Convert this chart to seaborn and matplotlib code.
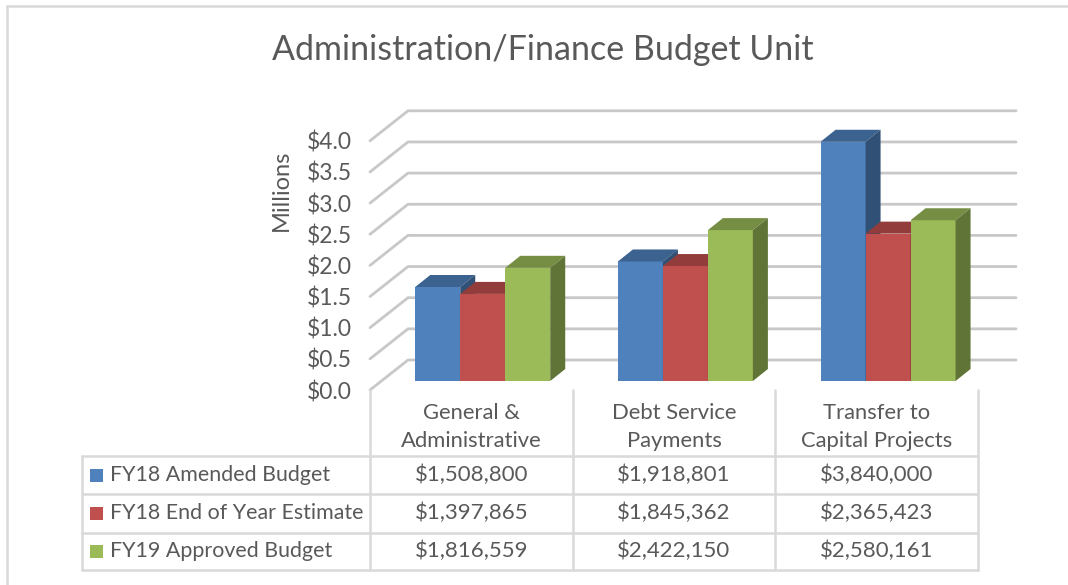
import numpy as np
import pandas as pd
import matplotlib
matplotlib.use("Agg")
import matplotlib.pyplot as plt
import seaborn as sns
from matplotlib.transforms import blended_transform_factory, IdentityTransform, ScaledTranslation
from matplotlib.patches import Polygon, Rectangle
from matplotlib.lines import Line2D
import matplotlib.colors as mcolors

# ---------------- data ----------------
categories = ["General &\nAdministrative", "Debt Service\nPayments", "Transfer to\nCapital Projects"]
series = ["FY18 Amended Budget", "FY18 End of Year Estimate", "FY19 Approved Budget"]
amended = [1508800, 1918801, 3840000]
estimate = [1397865, 1845362, 2365423]
approved = [1816559, 2422150, 2580161]
y_ticks = [0.0, 0.5, 1.0, 1.5, 2.0, 2.5, 3.0, 3.5, 4.0]
y_tick_labels = ["$0.0", "$0.5", "$1.0", "$1.5", "$2.0", "$2.5", "$3.0", "$3.5", "$4.0"]
title = "Administration/Finance Budget Unit"
y_label = "Millions"
colors = ["#4F81BD", "#C0504D", "#9BBB59"]

values = [amended, estimate, approved]
rows = []
for s, vals in zip(series, values):
    for c, v in zip(categories, vals):
        rows.append({"cat": c, "series": s, "val": v / 1e6})
df = pd.DataFrame(rows)

# ---------------- layout ----------------
W, H = 1068, 585
sns.set_theme(style="white")
plt.rcParams["font.family"] = ["Lato", "DejaVu Sans"]
TXT = "#595959"
GRID = "#C8C8C8"
LINE = "#D9D9D9"

fig = plt.figure(figsize=(W / 100, H / 100), dpi=100)
fig.patch.set_facecolor("white")

px_per_m = 62.3
ymax = 4.5
ax = fig.add_axes([370 / W, 1 - 390 / H, 608 / W, ymax * px_per_m / H])

sns.barplot(data=df, x="cat", y="val", hue="series", order=categories,
            hue_order=series, palette=colors, width=0.666, saturation=1,
            linewidth=0, edgecolor="none", legend=False, ax=ax)
ax.set_xlim(-0.5, 2.5)
ax.set_ylim(0, ymax)
for sp in ax.spines.values():
    sp.set_visible(False)
ax.patch.set_alpha(0)
ax.set_xticks([])
ax.set_xlabel("")
ax.set_ylabel("")
ax.set_yticks(y_ticks)
ax.set_yticklabels(y_tick_labels)
ax.tick_params(axis="y", length=0, pad=13, labelsize=16.5, labelcolor=TXT)

# plane offsets (pixels)
bar_off = np.array([11.4, 9.0])
back_off = np.array([38.0, 30.0])
depth = np.array([15.0, 12.0])

def darker(c, f):
    r, g, b = mcolors.to_rgb(c)
    return (r * f, g * f, b * f)

# bars: shift to bar plane and add 3D faces
n_cat = len(categories)
for i, p in enumerate(ax.patches):
    s_idx = i // n_cat
    base_z = 3 + s_idx
    p.set_transform(ax.transData + ScaledTranslation(bar_off[0] / 100, bar_off[1] / 100, fig.dpi_scale_trans))
    p.set_zorder(base_z)
    x0, w, h = p.get_x(), p.get_width(), p.get_height()
    (xl, yb), (xr, yt) = ax.transData.transform([(x0, 0), (x0 + w, h)])
    xl += bar_off[0]; xr += bar_off[0]; yb += bar_off[1]; yt += bar_off[1]
    fc = colors[s_idx]
    top = Polygon([(xl, yt), (xr, yt), (xr + depth[0], yt + depth[1]), (xl + depth[0], yt + depth[1])],
                  closed=True, facecolor=darker(fc, 0.76), edgecolor="none",
                  transform=IdentityTransform(), zorder=base_z + 0.1, clip_on=False)
    side = Polygon([(xr, yb), (xr, yt), (xr + depth[0], yt + depth[1]), (xr + depth[0], yb + depth[1])],
                   closed=True, facecolor=darker(fc, 0.62), edgecolor="none",
                   transform=IdentityTransform(), zorder=base_z + 0.1, clip_on=False)
    ax.add_patch(top)
    ax.add_patch(side)

# gridlines: front diagonal + back wall
for v in y_ticks:
    fl = ax.transData.transform((-0.5, v))
    fr = ax.transData.transform((2.5, v))
    bl = fl + back_off
    br = fr + back_off
    ax.add_line(Line2D([fl[0], bl[0], br[0]], [fl[1], bl[1], br[1]], color=GRID, lw=2.0,
                       transform=IdentityTransform(), zorder=1, clip_on=False,
                       solid_joinstyle="miter"))

# y label
fig.text(281 / W, 1 - 190 / H, y_label, rotation=90, ha="center", va="center",
         fontsize=17, color=TXT)

# title
fig.text(543 / W, 1 - 50 / H, title, ha="center", va="center", fontsize=24.5,
         color=TXT, fontweight="normal")

# ---------------- data table ----------------
bt = blended_transform_factory(ax.transData, fig.transFigure)
def fy(ypx):
    return 1 - ypx / H

row_lines = [456, 494, 533, 570]
row_centers = [475, 513, 551]
x_left_px = 82

# horizontal lines
for yl in row_lines:
    fig.add_artist(Line2D([x_left_px / W, 978 / W], [fy(yl), fy(yl)], color=LINE, lw=1.8,
                          transform=fig.transFigure))
# vertical lines
fig.add_artist(Line2D([x_left_px / W, x_left_px / W], [fy(456), fy(570)], color=LINE, lw=1.8,
                      transform=fig.transFigure))
for b in [-0.5, 0.5, 1.5, 2.5]:
    fig.add_artist(Line2D([b, b], [fy(390), fy(570)], color=LINE, lw=1.8, transform=bt))

# category labels
for i, c in enumerate(categories):
    fig.text(i, fy(427), c, transform=bt, ha="center", va="center", fontsize=15.8,
             color=TXT, linespacing=1.55)

# rows
for s_idx, (s, vals) in enumerate(zip(series, values)):
    yc = row_centers[s_idx]
    fig.add_artist(Rectangle((90 / W, fy(yc + 6.5)), 13 / W, 13 / H, facecolor=colors[s_idx],
                             edgecolor="none", transform=fig.transFigure))
    fig.text(110 / W, fy(yc), s, ha="left", va="center", fontsize=15.4, color=TXT)
    for i, v in enumerate(vals):
        fig.text(i, fy(yc), f"${v:,.0f}", transform=bt, ha="center", va="center",
                 fontsize=16, color=TXT)

# outer chart border
fig.add_artist(Line2D([7 / W, 7 / W], [fy(6), 0], color=LINE, lw=1.8, transform=fig.transFigure))
fig.add_artist(Line2D([7 / W, 1.0], [fy(6), fy(6)], color=LINE, lw=1.8, transform=fig.transFigure))

fig.savefig("out.png", dpi=100, facecolor="white")
